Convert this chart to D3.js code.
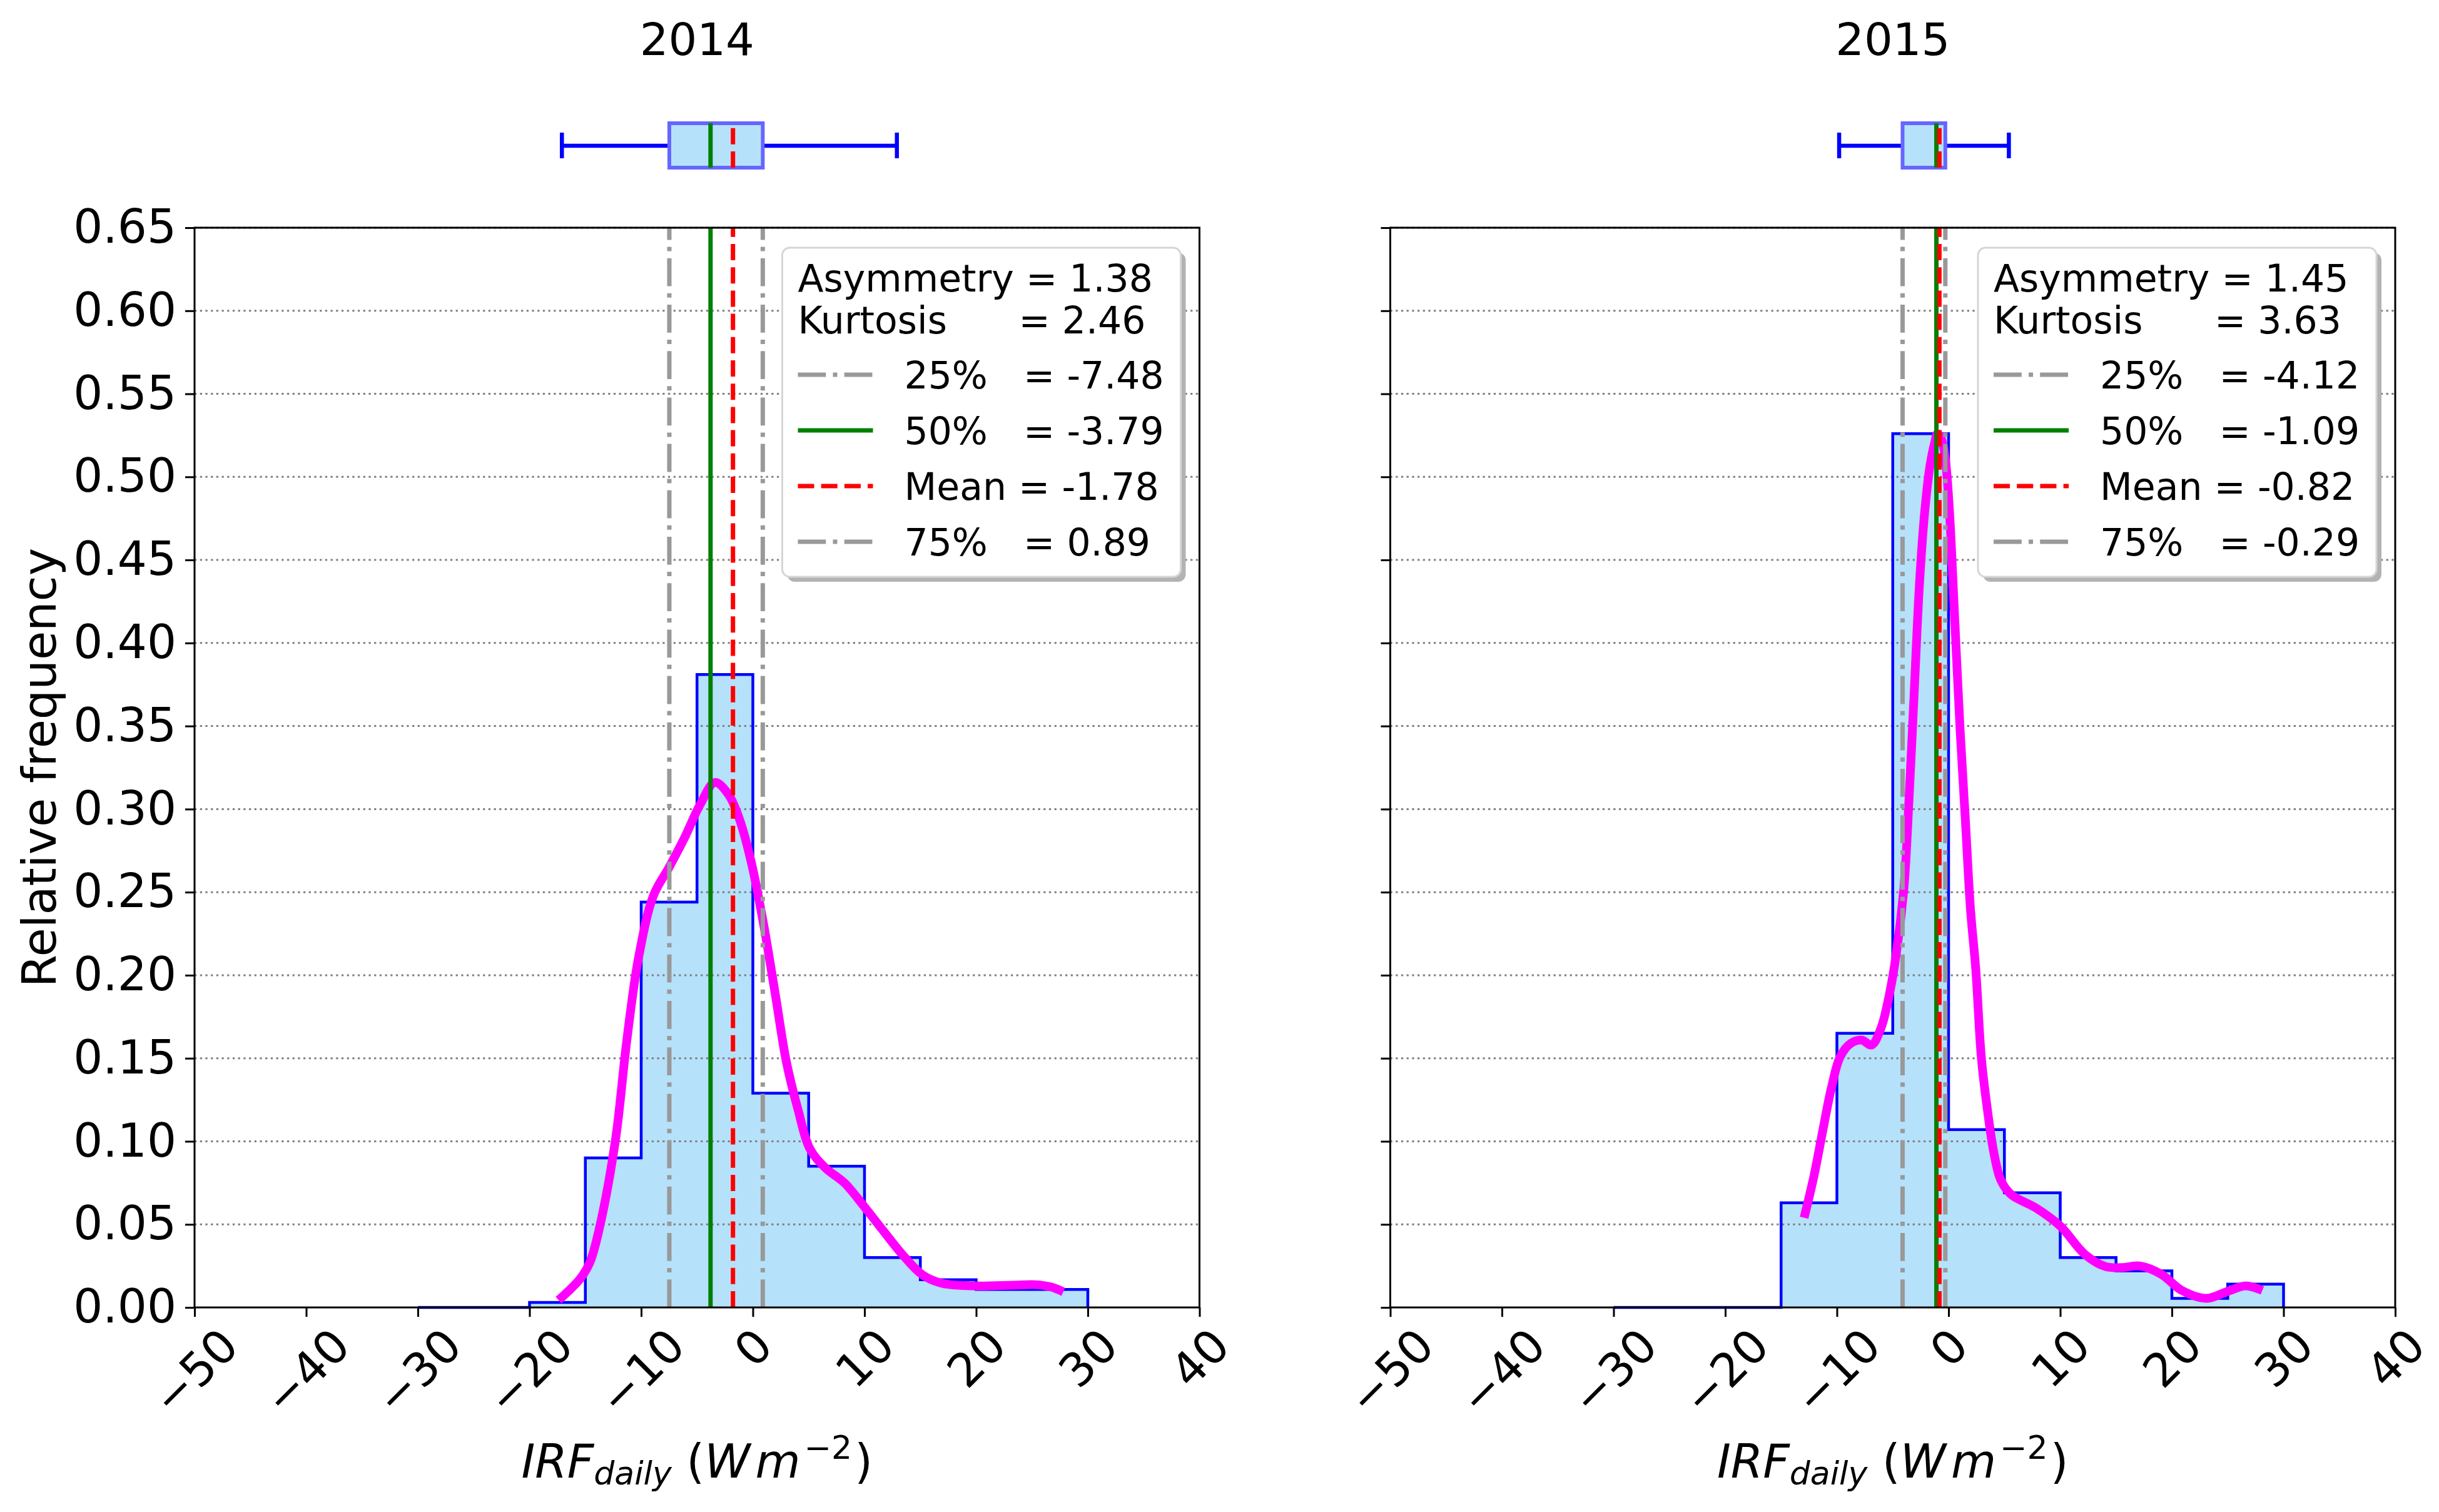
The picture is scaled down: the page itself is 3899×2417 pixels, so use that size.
<!DOCTYPE html>
<html>
<head>
<meta charset="utf-8">
<script src="https://cdn.jsdelivr.net/npm/d3@7"></script>
<style>
  body { margin: 0; background: #fff; }
  svg { display: block; font-family: "DejaVu Sans", sans-serif; }
  text { white-space: pre; }
</style>
</head>
<body>
<svg id="chart" width="3899" height="2417" viewBox="0 0 3899 2417"></svg>
<script>
// values
const years = ['2014', '2015'];
const binEdges = [-30, -25, -20, -15, -10, -5, 0, 5, 10, 15, 20, 25, 30];
const freq2014 = [0, 0, 0.003, 0.090, 0.244, 0.381, 0.129, 0.085, 0.030, 0.0167, 0.0108, 0.0108];
const freq2015 = [0, 0, 0, 0.063, 0.165, 0.526, 0.107, 0.069, 0.030, 0.022, 0.0055, 0.014];

const kde2014 = [[-17.4, 0.0044], [-15.5, 0.017], [-14.6, 0.027], [-13.7, 0.049], [-12.3, 0.101],
  [-11.3, 0.160], [-10.25, 0.21], [-8.9, 0.248], [-7.5, 0.265], [-6.1, 0.283], [-4.7, 0.303],
  [-3.4, 0.316], [-2.2, 0.309], [-1.2, 0.294], [-0.14, 0.268], [0.9, 0.233], [2.0, 0.189],
  [3.0, 0.148], [4.05, 0.119], [5.1, 0.0956], [6.5, 0.084], [8.2, 0.075], [10.0, 0.0605],
  [11.7, 0.046], [13.5, 0.031], [15.2, 0.0196], [16.9, 0.0146], [19.7, 0.013], [23.2, 0.0134],
  [25.3, 0.0137], [26.7, 0.0123], [27.8, 0.0094]];
const kde2015 = [[-12.94, 0.054], [-12.06, 0.079], [-11.25, 0.107], [-10.5, 0.132], [-9.7, 0.151],
  [-8.75, 0.159], [-7.8, 0.161], [-6.9, 0.158], [-6.06, 0.168], [-5.44, 0.184], [-4.86, 0.205],
  [-4.02, 0.251], [-3.55, 0.305], [-3.08, 0.37], [-2.62, 0.434], [-2.15, 0.478], [-1.68, 0.506],
  [-1.23, 0.521], [-1.0, 0.526], [-0.66, 0.523], [-0.28, 0.51], [0.09, 0.478], [0.56, 0.413],
  [1.03, 0.348], [1.5, 0.294], [1.96, 0.24], [2.43, 0.204], [2.94, 0.15], [3.44, 0.121],
  [4.06, 0.093], [4.69, 0.0765], [5.6, 0.068], [7.8, 0.060], [10.0, 0.049], [12.2, 0.032],
  [14.06, 0.0246], [15.5, 0.024], [17.2, 0.0249], [19.06, 0.0199], [20.9, 0.0102], [23.1, 0.0055],
  [25.0, 0.0097], [26.6, 0.013], [28.1, 0.0102]];

const asymmetry = [1.38, 1.45];
const kurtosis = [2.46, 3.63];
const q25 = [-7.48, -4.12];
const q50 = [-3.79, -1.09];
const means = [-1.78, -0.82];
const q75 = [0.89, -0.29];
const whiskerLo = [-17.1, -9.8];
const whiskerHi = [12.9, 5.4];

const xTicks = [-50, -40, -30, -20, -10, 0, 10, 20, 30, 40];
const yTicks = d3.range(0, 14).map(i => i * 0.05);

// layout
const panels = [{ left: 311, right: 1917.5 }, { left: 2222.5, right: 3829 }];
const axTop = 364, axBottom = 2090;
const tickFont = 74, legendFont = 60;
const fillBlue = '#b6e1fa';
const statWidth = 7;

const svg = d3.select('#chart');

const y = d3.scaleLinear().domain([0, 0.65]).range([axBottom, axTop]);

const dash = { red: '26,11.2', grayDot: '44.8,11.2,7,11.2' };

function drawPanel(i) {
  const p = panels[i];
  const x = d3.scaleLinear().domain([-50, 40]).range([p.left, p.right]);
  const freq = i === 0 ? freq2014 : freq2015;
  const kde = i === 0 ? kde2014 : kde2015;
  const g = svg.append('g');

  // step histogram path
  const pts = [[binEdges[0], 0]];
  freq.forEach((f, k) => {
    pts.push([binEdges[k], f]);
    pts.push([binEdges[k + 1], f]);
  });
  pts.push([binEdges[binEdges.length - 1], 0]);
  const stepLine = d3.line().x(d => x(d[0])).y(d => y(d[1]));

  g.append('path')
    .attr('d', stepLine(pts) + 'Z')
    .attr('fill', fillBlue)
    .attr('stroke', 'none');

  // horizontal grid
  g.append('g').selectAll('line')
    .data(yTicks.slice(1))
    .enter().append('line')
    .attr('x1', p.left).attr('x2', p.right)
    .attr('y1', d => y(d)).attr('y2', d => y(d))
    .attr('stroke', '#808080')
    .attr('stroke-width', 3)
    .attr('stroke-dasharray', '3.3,5.4');

  g.append('path')
    .attr('d', stepLine(pts))
    .attr('fill', 'none')
    .attr('stroke', '#0000ff')
    .attr('stroke-width', 4.5);

  // kde curve
  g.append('path')
    .attr('d', d3.line().x(d => x(d[0])).y(d => y(d[1])).curve(d3.curveCatmullRom)(kde))
    .attr('fill', 'none')
    .attr('stroke', '#ff00ff')
    .attr('stroke-width', 14);

  // vertical stat lines
  const vlines = [
    { v: q25[i], color: '#999999', dash: dash.grayDot },
    { v: q50[i], color: '#008000', dash: null },
    { v: means[i], color: '#ff0000', dash: dash.red },
    { v: q75[i], color: '#999999', dash: dash.grayDot }
  ];
  g.append('g').selectAll('line')
    .data(vlines)
    .enter().append('line')
    .attr('x1', d => x(d.v)).attr('x2', d => x(d.v))
    .attr('y1', axBottom).attr('y2', axTop)
    .attr('stroke', d => d.color)
    .attr('stroke-width', statWidth)
    .attr('stroke-dasharray', d => d.dash);

  // axes
  const xAxis = g.append('g')
    .attr('transform', `translate(0,${axBottom})`)
    .call(d3.axisBottom(x).tickValues(xTicks).tickSize(15).tickSizeOuter(0));
  xAxis.select('.domain').remove();
  xAxis.selectAll('line').attr('stroke', '#000').attr('stroke-width', 3);
  xAxis.selectAll('text')
    .attr('fill', '#000')
    .attr('font-size', tickFont)
    .attr('font-family', 'DejaVu Sans')
    .attr('y', null).attr('dy', null)
    .attr('text-anchor', 'middle')
    .attr('dominant-baseline', 'central')
    .attr('transform', function () {
      const w = this.getComputedTextLength();
      const cy = 28 + (w + 0.75 * tickFont) * 0.3536;
      return `translate(0,${cy}) rotate(-45)`;
    });

  const yAxis = g.append('g')
    .attr('transform', `translate(${p.left},0)`)
    .call(d3.axisLeft(y).tickValues(yTicks).tickSize(15).tickPadding(14)
      .tickSizeOuter(0).tickFormat(d3.format('.2f')));
  yAxis.select('.domain').remove();
  yAxis.selectAll('line').attr('stroke', '#000').attr('stroke-width', 3);
  yAxis.selectAll('text')
    .attr('fill', '#000')
    .attr('font-size', tickFont)
    .attr('font-family', 'DejaVu Sans');
  if (i === 1) yAxis.selectAll('text').remove();

  // frame
  g.append('rect')
    .attr('x', p.left).attr('y', axTop)
    .attr('width', p.right - p.left).attr('height', axBottom - axTop)
    .attr('fill', 'none')
    .attr('stroke', '#000')
    .attr('stroke-width', 3);

  // legend
  const lw = 637, lh = 526;
  const lx = p.right - 30 - lw, ly = axTop + 32;
  const leg = g.append('g').attr('transform', `translate(${lx},${ly})`);
  leg.append('rect')
    .attr('x', 8).attr('y', 8).attr('width', lw).attr('height', lh).attr('rx', 12)
    .attr('fill', '#b3b3b3');
  leg.append('rect')
    .attr('width', lw).attr('height', lh).attr('rx', 12)
    .attr('fill', '#fff')
    .attr('stroke', '#d6d6d6')
    .attr('stroke-width', 3);

  const fmt = v => v.toFixed(2);
  const headLines = [
    'Asymmetry = ' + fmt(asymmetry[i]),
    'Kurtosis      = ' + fmt(kurtosis[i])
  ];
  leg.selectAll('.head')
    .data(headLines)
    .enter().append('text')
    .attr('class', 'head')
    .attr('x', 25)
    .attr('y', (d, k) => 48 + 22 + k * 67)
    .attr('font-size', legendFont)
    .text(d => d);

  const entries = [
    { label: '25%   = ' + fmt(q25[i]), color: '#999999', dash: dash.grayDot },
    { label: '50%   = ' + fmt(q50[i]), color: '#008000', dash: null },
    { label: 'Mean = ' + fmt(means[i]), color: '#ff0000', dash: dash.red },
    { label: '75%   = ' + fmt(q75[i]), color: '#999999', dash: dash.grayDot }
  ];
  const ent = leg.selectAll('.entry')
    .data(entries)
    .enter().append('g')
    .attr('class', 'entry')
    .attr('transform', (d, k) => `translate(0,${203 + k * 89})`);
  ent.append('line')
    .attr('x1', 25).attr('x2', 145)
    .attr('stroke', d => d.color)
    .attr('stroke-width', statWidth)
    .attr('stroke-dasharray', d => d.dash);
  ent.append('text')
    .attr('x', 195).attr('y', 22)
    .attr('font-size', legendFont)
    .text(d => d.label);

  // boxplot above the panel
  const bp = svg.append('g');
  const boxTop = 197, boxBot = 268, mid = 233;
  bp.append('line')
    .attr('x1', x(whiskerLo[i])).attr('x2', x(q25[i]))
    .attr('y1', mid).attr('y2', mid)
    .attr('stroke', '#0000ff').attr('stroke-width', 6.5);
  bp.append('line')
    .attr('x1', x(q75[i])).attr('x2', x(whiskerHi[i]))
    .attr('y1', mid).attr('y2', mid)
    .attr('stroke', '#0000ff').attr('stroke-width', 6.5);
  [whiskerLo[i], whiskerHi[i]].forEach(v => {
    bp.append('line')
      .attr('x1', x(v)).attr('x2', x(v))
      .attr('y1', 212).attr('y2', 253)
      .attr('stroke', '#0000ff').attr('stroke-width', 6.5);
  });
  bp.append('rect')
    .attr('x', x(q25[i])).attr('y', boxTop)
    .attr('width', x(q75[i]) - x(q25[i])).attr('height', boxBot - boxTop)
    .attr('fill', fillBlue)
    .attr('stroke', '#6666ff')
    .attr('stroke-width', 6);
  bp.append('line')
    .attr('x1', x(q50[i])).attr('x2', x(q50[i]))
    .attr('y1', boxTop).attr('y2', boxBot)
    .attr('stroke', '#008000').attr('stroke-width', statWidth);
  bp.append('line')
    .attr('x1', x(means[i])).attr('x2', x(means[i]))
    .attr('y1', boxBot).attr('y2', boxTop)
    .attr('stroke', '#ff0000').attr('stroke-width', statWidth)
    .attr('stroke-dasharray', dash.red);

  // title
  svg.append('text')
    .attr('x', (p.left + p.right) / 2).attr('y', 88)
    .attr('text-anchor', 'middle')
    .attr('font-size', 72)
    .text(years[i]);

  // x label
  const xl = svg.append('text')
    .attr('x', (p.left + p.right) / 2).attr('y', 2362)
    .attr('text-anchor', 'middle')
    .attr('font-size', tickFont);
  xl.append('tspan').attr('font-style', 'italic').text('IRF');
  xl.append('tspan').attr('font-style', 'italic').attr('font-size', 52).attr('dy', 11).text('daily');
  xl.append('tspan').attr('dy', -11).text(' (');
  xl.append('tspan').attr('font-style', 'italic').text('W');
  xl.append('tspan').attr('font-style', 'italic').attr('dx', 8).text('m');
  xl.append('tspan').attr('font-size', 52).attr('dx', 6).attr('dy', -30).text('\u22122');
  xl.append('tspan').attr('dx', 4).attr('dy', 30).text(')');
}

drawPanel(0);
drawPanel(1);

svg.append('text')
  .attr('transform', `translate(89,${(axTop + axBottom) / 2}) rotate(-90)`)
  .attr('text-anchor', 'middle')
  .attr('font-size', 75)
  .text('Relative frequency');
</script>
</body>
</html>
